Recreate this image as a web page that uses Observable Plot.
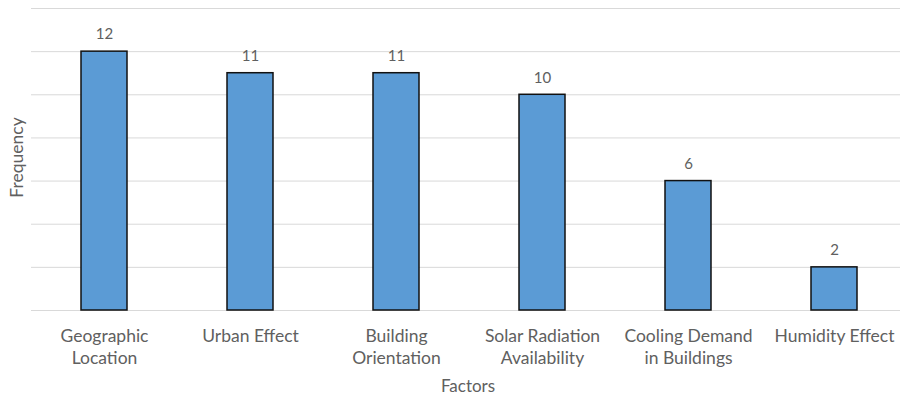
<!DOCTYPE html>
<html>
<head>
<meta charset="utf-8">
<script src="https://cdn.jsdelivr.net/npm/d3@7"></script>
<script src="https://cdn.jsdelivr.net/npm/@observablehq/plot@0.6"></script>
<style>
  html, body { margin: 0; padding: 0; background: #fff; }
  #chart svg { display: block; }
</style>
</head>
<body>
<div id="chart"></div>
<script>
const categories = ["Geographic Location", "Urban Effect", "Building Orientation", "Solar Radiation Availability", "Cooling Demand in Buildings", "Humidity Effect"];
const tickLabels = ["Geographic\nLocation", "Urban Effect", "Building\nOrientation", "Solar Radiation\nAvailability", "Cooling Demand\nin Buildings", "Humidity Effect"];
const frequency = [12, 11, 11, 10, 6, 2];
const gridValues = [0, 2, 4, 6, 8, 10, 12, 14];

const data = categories.map((c, i) => ({factor: c, value: frequency[i]}));
const labelOf = new Map(categories.map((c, i) => [c, tickLabels[i]]));

const font = "Lato, 'Open Sans', sans-serif";
const grey = "#606060";

const chart = Plot.plot({
  width: 900,
  height: 395,
  marginTop: 8,
  marginBottom: 85,
  marginLeft: 31,
  marginRight: 0,
  style: {fontFamily: font, background: "#fff"},
  x: {domain: categories, range: [31, 907], paddingInner: 0.685, paddingOuter: 0.3425, label: null},
  y: {domain: [0, 14], label: null},
  marks: [
    Plot.ruleY(gridValues, {stroke: "#d9d9d9", strokeWidth: 1}),
    Plot.barY(data, {x: "factor", y: "value", fill: "#5b9bd5", stroke: "#111", strokeWidth: 1.5}),
    Plot.text(data, {x: "factor", y: "value", text: d => String(d.value), dy: -17, fill: grey, fontSize: 15}),
    Plot.axisX({tickSize: 0, tickPadding: 15, tickFormat: d => labelOf.get(d), fontSize: 17.5, lineHeight: 1.3, fill: grey, label: null}),
    Plot.axisY({ticks: [], label: null}),
    Plot.text(["Frequency"], {frameAnchor: "left", textAnchor: "middle", lineAnchor: "middle", dx: -14, dy: -2, rotate: -90, fill: grey, fontSize: 17.5}),
    Plot.text(["Factors"], {frameAnchor: "bottom", lineAnchor: "middle", dy: 76, dx: 2, fill: grey, fontSize: 17})
  ]
});
document.getElementById("chart").appendChild(chart);
</script>
</body>
</html>
